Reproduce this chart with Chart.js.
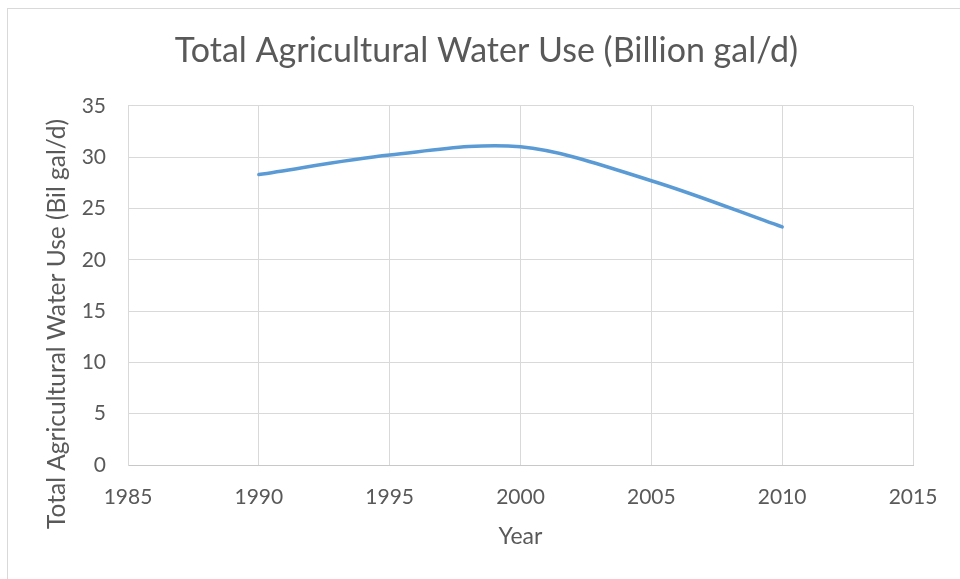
<!DOCTYPE html>
<html>
<head>
<meta charset="utf-8">
<script src="https://cdn.jsdelivr.net/npm/chart.js@4"></script>
<style>
  body { margin: 0; background: #fff; }
  #frame { position: absolute; left: 7px; top: 8px; width: 1000px; height: 600px; border: 1px solid #d9d9d9; }
  #wrap { position: absolute; left: 0; top: 0; width: 960px; height: 579px; }
</style>
</head>
<body>
<div id="frame"></div>
<div id="wrap"><canvas id="myChart" width="960" height="579"></canvas></div>
<script>
// data
const years = [1990, 1995, 2000, 2005, 2010];
const water_use = [28.3, 30.2, 31.0, 27.7, 23.2];

const title_text = 'Total Agricultural Water Use (Billion gal/d)';
const x_title = 'Year';
const y_title = 'Total Agricultural Water Use (Bil gal/d)';

const text_color = '#595959';
const grid_color = '#d9d9d9';

const points = [];
for (let i = 0; i < years.length; i++) {
  points.push({ x: years[i], y: water_use[i] });
}

// excel puts the y title a bit lower than the plot centre, so draw it by hand
const yTitlePlugin = {
  id: 'yTitle',
  afterDraw(chart) {
    const c = chart.ctx;
    c.save();
    c.translate(57, 324);
    c.rotate(-Math.PI / 2);
    c.font = '24.5px Lato';
    c.fillStyle = text_color;
    c.textAlign = 'center';
    c.textBaseline = 'middle';
    c.fillText(y_title, 0, 0);
    c.restore();
  }
};

const ctx = document.getElementById('myChart');

new Chart(ctx, {
  type: 'scatter',
  data: {
    datasets: [{
      data: points,
      showLine: true,
      borderColor: '#5b9bd5',
      borderWidth: 3.5,
      pointRadius: 0,
      tension: 0.33, // excel style smoothing
      borderCapStyle: 'round'
    }]
  },
  plugins: [yTitlePlugin],
  options: {
    responsive: false,
    animation: false,
    layout: { padding: { left: 13, right: 0, top: 0, bottom: 0 } },
    plugins: {
      legend: { display: false },
      tooltip: { enabled: false },
      title: {
        display: true,
        text: title_text,
        color: text_color,
        font: { family: 'Lato', size: 34, weight: 'normal', lineHeight: 1.2 },
        padding: { top: 31, bottom: 34 }
      }
    },
    scales: {
      x: {
        type: 'linear',
        min: 1985,
        max: 2015,
        afterFit: function(scale) { scale.height = 114; },
        ticks: {
          stepSize: 5,
          color: text_color,
          padding: 20,
          font: { family: 'Lato', size: 21 },
          callback: function(v) { return String(v); }
        },
        grid: { color: grid_color, drawTicks: false },
        border: { color: '#c8c8c8' },
        title: {
          display: true,
          text: x_title,
          color: text_color,
          font: { family: 'Lato', size: 23, lineHeight: 1.2 },
          padding: { top: 0, bottom: 29 }
        }
      },
      y: {
        min: 0,
        max: 35,
        afterFit: function(scale) { scale.width = 115; },
        ticks: {
          stepSize: 5,
          color: text_color,
          padding: 22,
          font: { family: 'Lato', size: 21 }
        },
        grid: { color: grid_color, drawTicks: false },
        border: { color: grid_color },
        title: { display: false }
      },
      // empty right margin so the title centres like the original
      spacer: {
        position: 'right',
        afterFit: function(scale) { scale.width = 47; },
        ticks: { display: false },
        grid: { display: false },
        border: { display: false }
      }
    }
  }
});
</script>
</body>
</html>
